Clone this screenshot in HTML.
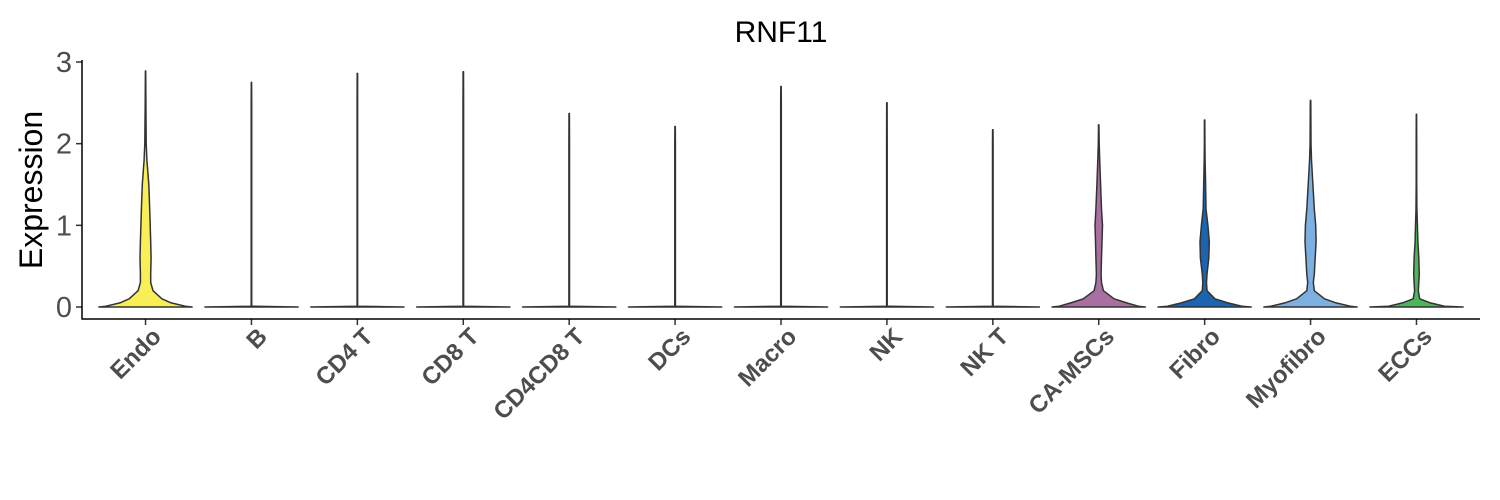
<!DOCTYPE html>
<html><head><meta charset="utf-8"><style>body{margin:0;background:#fff}svg{display:block}</style></head>
<body>
<svg id="chart" width="1500" height="500" xmlns="http://www.w3.org/2000/svg" font-family="Liberation Sans, sans-serif">
<text x="781" y="42" font-size="30" text-anchor="middle" fill="#000">RNF11</text>
<text transform="translate(42,190) rotate(-90)" font-size="32" text-anchor="middle" fill="#000">Expression</text>
<g id="plot"></g>
</svg>
<script>
const categories = ["Endo","B","CD4 T","CD8 T","CD4CD8 T","DCs","Macro","NK","NK T","CA-MSCs","Fibro","Myofibro","ECCs"];
const maxValues = [2.89,2.75,2.86,2.88,2.37,2.21,2.70,2.50,2.17,2.23,2.29,2.53,2.36];
const colors = ["#f7ef55","#f7ef55","#f7ef55","#f7ef55","#f7ef55","#f7ef55","#f7ef55","#f7ef55","#f7ef55","#a96fa0","#1b64b0","#7bb0e0","#4fb55a"];
const densityLevels = [0,0.01,0.05,0.1,0.2,0.3,0.4,0.6,0.8,1.0,1.2,1.5,1.8,2.0,2.5];
const zeroProfile = [1,0.006,0.006,0.006,0.006,0.006,0.006,0.006,0.006,0.006,0.006,0.006,0.006,0.006,0.006];
const densities = [
 [1.0,0.85,0.55,0.35,0.16,0.11,0.11,0.12,0.11,0.1,0.09,0.07,0.03,0.015,0.008],
 zeroProfile,zeroProfile,zeroProfile,zeroProfile,zeroProfile,zeroProfile,zeroProfile,zeroProfile,
 [1.0,0.85,0.6,0.33,0.1,0.06,0.05,0.06,0.07,0.08,0.06,0.04,0.02,0.01,0.006],
 [1.0,0.8,0.5,0.22,0.05,0.04,0.05,0.09,0.1,0.07,0.03,0.02,0.01,0.006,0.006],
 [1.0,0.85,0.55,0.3,0.08,0.06,0.08,0.1,0.12,0.11,0.08,0.05,0.02,0.01,0.006],
 [1.0,0.6,0.3,0.07,0.04,0.05,0.06,0.05,0.03,0.02,0.01,0.006,0.006,0.006,0.006]
];
const yTicks = [0,1,2,3];

const X0=82,X1=1480,Y0=307,Y3=62;
const ns="http://www.w3.org/2000/svg";
const g=document.getElementById('plot');
const unit=(X1-X0)/(categories.length-1+1.2);
const xScale=i=>X0+(i+0.6)*unit;
const yScale=v=>Y0-(Y0-Y3)*v/3;
const halfMax=0.44*unit;
function mk(t,a){const e=document.createElementNS(ns,t);for(const k in a)e.setAttribute(k,a[k]);g.appendChild(e);return e;}
categories.forEach((c,i)=>{
  const cx=xScale(i);const lv=densityLevels.filter(v=>v<maxValues[i]).concat([maxValues[i]]);
  const ws=lv.map((v,j)=>j<densities[i].length?densities[i][j]:0.004);
  ws[ws.length-1]=0.004;
  const right=lv.map((v,j)=>[cx+ws[j]*halfMax,yScale(v)]);
  const left=lv.map((v,j)=>[cx-ws[j]*halfMax,yScale(v)]).reverse();
  const pts=right.concat(left).map(p=>p[0].toFixed(1)+','+p[1].toFixed(1)).join(' ');
  const p=mk('polygon',{points:pts,fill:colors[i],stroke:'#333','stroke-width':1.5,'stroke-linejoin':'round'});
  
  
  const t=mk('line',{x1:cx,x2:cx,y1:319,y2:325,stroke:'#333','stroke-width':1.5});
  
  
  const l=mk('text',{transform:`translate(${cx+17},${338}) rotate(-45)`,'text-anchor':'end','font-size':24,'font-weight':'bold',fill:'#4d4d4d'});
  l.textContent=c;
  
  
});
yTicks.forEach(v=>{
  const t=mk('line',{x1:76,x2:82,y1:yScale(v),y2:yScale(v),stroke:'#333','stroke-width':1.5});
  
  
  const l=mk('text',{x:72,y:yScale(v)+10,'text-anchor':'end','font-size':29,fill:'#4d4d4d'});
  l.textContent=v;
  
  
});
const ya=mk('line',{x1:82,x2:82,y1:60,y2:319.5,stroke:'#000','stroke-width':1.5});


const xa=mk('line',{x1:81.5,x2:1480,y1:319,y2:319,stroke:'#000','stroke-width':1.5});


</script>
</body></html>
